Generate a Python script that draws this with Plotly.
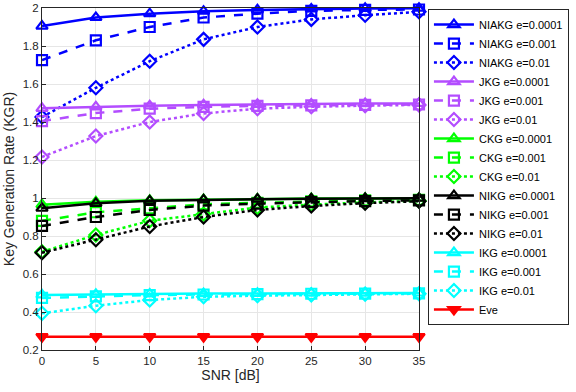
import plotly.graph_objects as go

snr = [0, 5, 10, 15, 20, 25, 30, 35]

niakg_1e4 = [1.905, 1.950, 1.970, 1.983, 1.990, 1.995, 1.998, 1.999]
niakg_1e3 = [1.726, 1.830, 1.900, 1.950, 1.970, 1.985, 1.990, 1.992]
niakg_1e2 = [1.426, 1.580, 1.720, 1.835, 1.900, 1.940, 1.962, 1.980]

jkg_1e4 = [1.472, 1.480, 1.485, 1.490, 1.493, 1.495, 1.497, 1.498]
jkg_1e3 = [1.405, 1.447, 1.470, 1.480, 1.485, 1.488, 1.490, 1.492]
jkg_1e2 = [1.216, 1.326, 1.400, 1.445, 1.470, 1.480, 1.486, 1.490]

ckg_1e4 = [0.965, 0.980, 0.988, 0.992, 0.995, 0.997, 0.998, 0.999]
ckg_1e3 = [0.880, 0.925, 0.946, 0.967, 0.975, 0.982, 0.987, 0.990]
ckg_1e2 = [0.717, 0.805, 0.880, 0.916, 0.950, 0.965, 0.977, 0.985]

nikg_1e4 = [0.946, 0.972, 0.985, 0.990, 0.994, 0.996, 0.998, 0.999]
nikg_1e3 = [0.853, 0.900, 0.937, 0.960, 0.970, 0.978, 0.984, 0.988]
nikg_1e2 = [0.712, 0.780, 0.850, 0.900, 0.937, 0.958, 0.973, 0.983]

ikg_1e4 = [0.490, 0.493, 0.495, 0.497, 0.498, 0.499, 0.499, 0.500]
ikg_1e3 = [0.474, 0.482, 0.489, 0.492, 0.494, 0.496, 0.497, 0.498]
ikg_1e2 = [0.393, 0.433, 0.463, 0.480, 0.486, 0.490, 0.494, 0.496]

eve = [0.270, 0.270, 0.270, 0.270, 0.270, 0.270, 0.270, 0.270]

BLUE = "#0000ff"
PURPLE = "#b34dff"
GREEN = "#00ff00"
BLACK = "#000000"
CYAN = "#00ffff"
RED = "#ff0000"

series = [
    ("NIAKG e=0.0001", niakg_1e4, BLUE, "solid", "triangle-up-open"),
    ("NIAKG e=0.001", niakg_1e3, BLUE, "dash", "square-open"),
    ("NIAKG e=0.01", niakg_1e2, BLUE, "dot", "diamond-open"),
    ("JKG e=0.0001", jkg_1e4, PURPLE, "solid", "triangle-up-open"),
    ("JKG e=0.001", jkg_1e3, PURPLE, "dash", "square-open"),
    ("JKG e=0.01", jkg_1e2, PURPLE, "dot", "diamond-open"),
    ("CKG e=0.0001", ckg_1e4, GREEN, "solid", "triangle-up-open"),
    ("CKG e=0.001", ckg_1e3, GREEN, "dash", "square-open"),
    ("CKG e=0.01", ckg_1e2, GREEN, "dot", "diamond-open"),
    ("NIKG e=0.0001", nikg_1e4, BLACK, "solid", "triangle-up-open"),
    ("NIKG e=0.001", nikg_1e3, BLACK, "dash", "square-open"),
    ("NIKG e=0.01", nikg_1e2, BLACK, "dot", "diamond-open"),
    ("IKG e=0.0001", ikg_1e4, CYAN, "solid", "triangle-up-open"),
    ("IKG e=0.001", ikg_1e3, CYAN, "dash", "square-open"),
    ("IKG e=0.01", ikg_1e2, CYAN, "dot", "diamond-open"),
    ("Eve", eve, RED, "solid", "triangle-down"),
]

fig = go.Figure()
for name, vals, color, dash, sym in series:
    fig.add_trace(go.Scatter(
        x=snr, y=vals, name=name, mode="lines+markers",
        line=dict(color=color, width=2.5, dash=dash),
        marker=dict(symbol=sym, size=10, color=color, line=dict(color=color, width=2.2)),
        cliponaxis=False,
    ))

axis_common = dict(
    showgrid=True, gridcolor="#e6e6e6", gridwidth=1,
    showline=True, linecolor="#262626", linewidth=1, mirror=True,
    ticks="inside", ticklen=4, tickcolor="#262626",
    tickfont=dict(size=11.5, color="#262626"),
    zeroline=False, automargin=False,
)

fig.update_layout(
    width=576, height=392,
    paper_bgcolor="white", plot_bgcolor="white",
    font=dict(family="Liberation Sans, Arial, sans-serif", size=11, color="#262626"),
    margin=dict(l=42, r=156, t=8, b=42),
    xaxis=dict(range=[0, 35], dtick=5,
               title=dict(text="SNR [dB]", font=dict(size=14), standoff=4), **axis_common),
    yaxis=dict(range=[0.2, 2.0], dtick=0.2,
               title=dict(text="Key Generation Rate (KGR)", font=dict(size=14), standoff=4), **axis_common),
    legend=dict(
        x=1.021, y=0.535, xanchor="left", yanchor="middle",
        bgcolor="white", bordercolor="#262626", borderwidth=1,
        font=dict(size=11, color="#000000"),
        tracegroupgap=0, itemwidth=40,
    ),
    showlegend=True,
)

fig.write_html("out.html", config={"displayModeBar": False},
               post_script="document.body.style.margin='0';")
